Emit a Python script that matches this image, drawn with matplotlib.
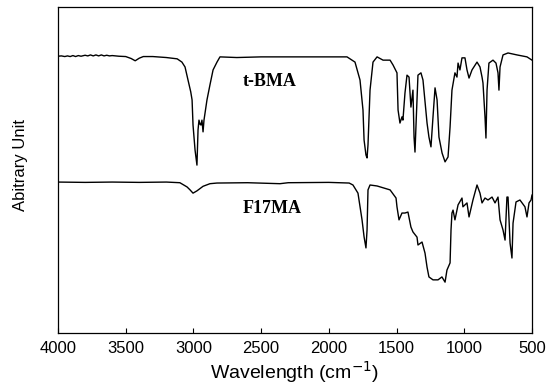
import matplotlib
matplotlib.use("Agg")
import matplotlib.pyplot as plt

# FTIR spectra (wavenumber in cm-1, transmittance in arbitrary %)
tbma_wn = [4000, 3975, 3950, 3930, 3910, 3890, 3870, 3850, 3830, 3800, 3780, 3760,
           3740, 3720, 3700, 3680, 3660, 3640, 3620, 3600, 3550, 3500, 3460, 3430,
           3400, 3370, 3300, 3200, 3120, 3085, 3062, 3040, 3020, 3010, 3003, 2988,
           2974, 2966, 2959, 2951, 2944, 2937, 2929, 2922, 2900, 2878, 2855, 2826,
           2804, 2680, 2500, 2340, 2117, 1866, 1807, 1770, 1748, 1740, 1726, 1718,
           1711, 1696, 1674, 1644, 1600, 1548, 1526, 1497, 1489, 1475, 1460, 1453,
           1438, 1423, 1408, 1394, 1379, 1371, 1364, 1357, 1342, 1320, 1305, 1275,
           1261, 1246, 1231, 1216, 1201, 1187, 1164, 1142, 1120, 1105, 1091, 1069,
           1054, 1046, 1032, 1017, 995, 980, 965, 943, 906, 884, 869, 862, 847, 840,
           832, 818, 788, 766, 751, 744, 736, 714, 677, 611, 537, 500]
tbma_t = [84.9, 85.0, 84.8, 85.0, 84.8, 85.1, 84.8, 85.1, 84.9, 85.2, 85.0, 85.3,
          85.0, 85.3, 85.0, 85.3, 85.0, 85.2, 85.0, 85.1, 84.9, 84.8, 84.2, 83.5,
          84.3, 84.8, 84.8, 84.5, 84.1, 83.1, 81.6, 77.6, 74.0, 71.5, 63.8, 56.1,
          51.5, 62.3, 65.3, 64.0, 63.8, 65.3, 61.7, 65.3, 71.5, 76.1, 80.7, 83.1,
          84.7, 84.5, 84.7, 84.7, 84.7, 84.7, 83.1, 77.6, 68.4, 59.2, 54.6, 53.7,
          57.7, 74.5, 83.1, 84.7, 83.7, 83.7, 82.2, 79.8, 68.4, 64.4, 66.3, 65.3,
          73.6, 79.1, 78.5, 69.3, 74.5, 60.1, 55.5, 63.2, 79.1, 79.8, 77.6, 64.4,
          60.1, 57.1, 66.3, 75.2, 71.5, 60.1, 55.2, 52.5, 54.0, 63.2, 74.5, 79.8,
          78.5, 82.8, 80.7, 84.4, 84.4, 80.7, 78.2, 80.7, 83.1, 81.6, 78.5, 76.7,
          66.3, 59.8, 74.5, 82.8, 83.7, 82.8, 79.8, 74.5, 81.6, 85.3, 85.9, 85.3,
          84.7, 83.7]

f17ma_wn = [4000, 3800, 3600, 3400, 3200, 3100, 3047, 3025, 3003, 2974, 2929, 2878,
            2826, 2600, 2361, 2300, 2000, 1850, 1822, 1785, 1755, 1740, 1726, 1718,
            1711, 1696, 1644, 1548, 1511, 1504, 1497, 1482, 1460, 1438, 1416, 1394,
            1379, 1349, 1342, 1312, 1290, 1275, 1261, 1231, 1194, 1165, 1142, 1128,
            1105, 1098, 1091, 1083, 1069, 1046, 1017, 1010, 980, 965, 936, 906, 884,
            869, 847, 825, 795, 773, 751, 736, 714, 699, 685, 677, 662, 648, 640,
            618, 589, 552, 537, 522, 507, 500]
f17ma_t = [46.3, 46.2, 46.3, 46.2, 46.3, 46.1, 44.8, 43.9, 42.9, 43.6, 45.0, 45.8,
           46.0, 46.1, 45.8, 46.1, 46.2, 46.0, 45.4, 42.9, 34.7, 29.5, 26.1, 31.6,
           43.9, 45.4, 45.1, 43.9, 41.8, 41.4, 38.7, 34.7, 36.8, 36.8, 37.1, 32.5,
           31.0, 29.4, 27.0, 27.9, 24.5, 20.2, 17.2, 16.3, 16.3, 17.2, 15.6, 19.3,
           21.5, 31.6, 36.8, 37.7, 34.7, 39.3, 41.4, 38.7, 39.9, 35.6, 40.8, 45.4,
           42.9, 39.9, 41.4, 40.8, 41.7, 39.9, 41.7, 34.7, 31.6, 28.5, 41.7, 41.7,
           27.6, 23.0, 33.7, 40.2, 40.8, 38.7, 35.6, 39.9, 40.8, 42.3]

x_ticks = [4000, 3500, 3000, 2500, 2000, 1500, 1000, 500]

plt.rcParams['font.family'] = ['Liberation Sans', 'DejaVu Sans']

fig = plt.figure(figsize=(5.49, 3.92), dpi=100)
ax = fig.add_axes([58 / 549, 1 - 333 / 392, 474 / 549, 326 / 392])

ax.plot(tbma_wn, tbma_t, color='black', lw=1.0)
ax.plot(f17ma_wn, f17ma_t, color='black', lw=1.0)

ax.set_xlim(4000, 500)
ax.set_ylim(0, 100)
ax.set_xticks(x_ticks)
ax.set_yticks([])
ax.tick_params(axis='x', direction='in', length=3.5, width=0.8, labelsize=12, pad=6)
for s in ax.spines.values():
    s.set_linewidth(0.9)

ax.set_xlabel('Wavelength (cm$^{-1}$)', fontsize=14, labelpad=2)
ax.set_ylabel('Abitrary Unit', fontsize=12)
ax.yaxis.set_label_coords(-0.063, 0.515)

ax.text(0.39, 0.77, 't-BMA', transform=ax.transAxes, fontsize=13,
        fontweight='bold', family='Liberation Serif', va='center', ha='left')
ax.text(0.39, 0.383, 'F17MA', transform=ax.transAxes, fontsize=13,
        fontweight='bold', family='Liberation Serif', va='center', ha='left')

fig.savefig('out.png', dpi=100)
